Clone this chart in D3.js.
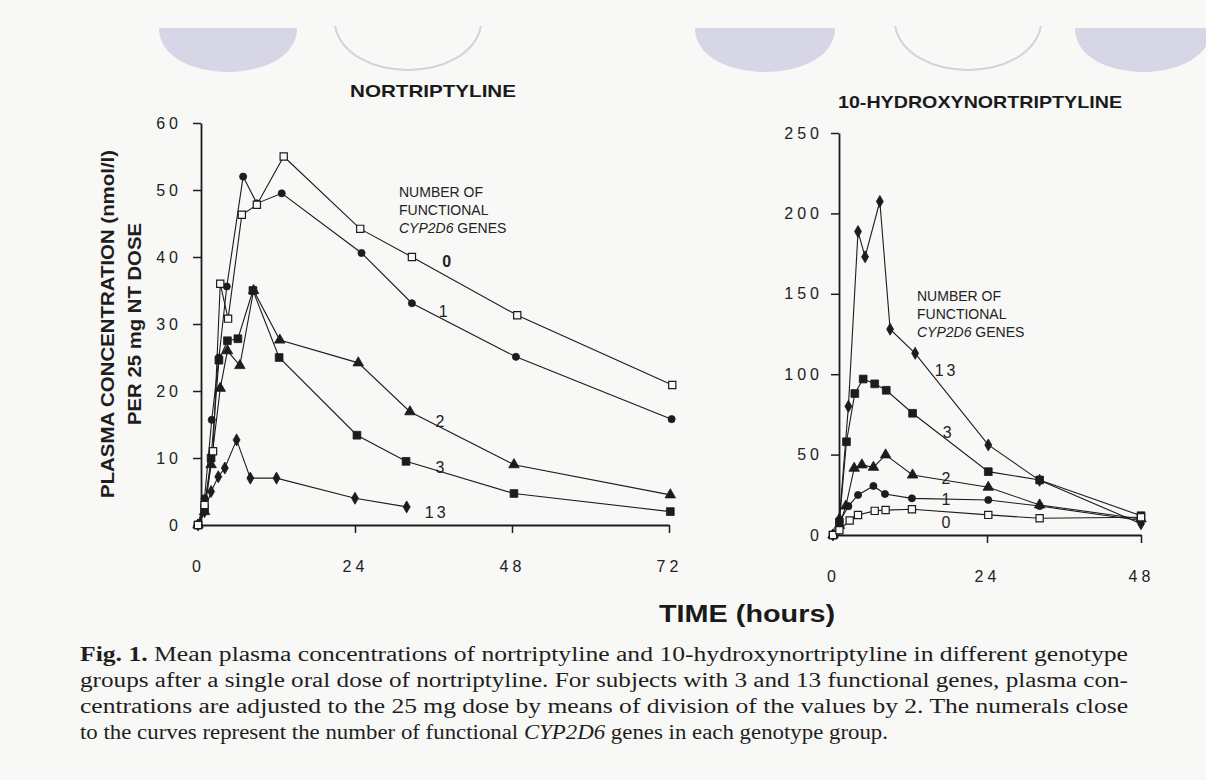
<!DOCTYPE html>
<html>
<head>
<meta charset="utf-8">
<script src="https://cdn.jsdelivr.net/npm/d3@7"></script>
<style>
  html, body { margin: 0; padding: 0; background: #f8f8f6; }
  svg { display: block; }
</style>
</head>
<body>
<svg id="chart" width="1206" height="780"></svg>
<script>
// ---------------- DATA ----------------
// Left panel: nortriptyline (nmol/l per 25 mg dose) vs time (h)
const ntTime0  = [0, 1, 2.3, 3.4, 4.6, 6.7, 9, 13.1, 24.8, 32.7, 48.8, 72.5];
const ntConc0  = [0, 3, 11, 36, 30.8, 46.3, 47.8, 55, 44.2, 40, 31.3, 20.9];
const ntTime1  = [0, 1, 2.1, 3.2, 4.4, 6.9, 9, 12.8, 25, 32.7, 48.6, 72.4];
const ntConc1  = [0, 4, 15.7, 25, 35.6, 52, 48, 49.5, 40.6, 33.1, 25.1, 15.8];
const ntTime2  = [0, 1, 2, 3.4, 4.5, 6.4, 8.5, 12.5, 24.5, 32.4, 48.3, 72.2];
const ntConc2  = [0, 2, 9, 20.4, 26, 23.8, 35, 27.6, 24.2, 16.9, 9, 4.5];
const ntTime3  = [0, 1, 2, 3.2, 4.5, 6.1, 8.4, 12.4, 24.3, 31.8, 48.3, 72.2];
const ntConc3  = [0, 2.5, 10, 24.6, 27.5, 27.8, 35, 25, 13.4, 9.5, 4.7, 2];
const ntTime13 = [0, 1, 2, 3.1, 4.1, 5.9, 8, 12, 24, 31.9];
const ntConc13 = [0, 2, 5, 7.2, 8.5, 12.7, 7, 7, 4, 2.7];

// Right panel: 10-hydroxynortriptyline
const ohTime0  = [0, 1, 2.6, 3.9, 6.5, 8.2, 12.3, 24.2, 32.2, 48];
const ohConc0  = [0, 3, 9, 12.4, 15, 15.5, 16, 12.5, 10.4, 11];
const ohTime1  = [0, 1, 2.4, 3.9, 6.3, 8.1, 12.3, 24.2, 32.2, 48];
const ohConc1  = [0, 8, 18, 24.9, 30.5, 25.5, 22.8, 21.8, 18, 9];
const ohTime2  = [0, 1, 2, 3.3, 4.5, 6.3, 8.2, 12.4, 24.2, 32.2, 48];
const ohConc2  = [0, 6, 18, 41.5, 43.6, 42.1, 49.8, 37.3, 29.7, 18.7, 10];
const ohTime3  = [0, 1, 2.1, 3.4, 4.7, 6.5, 8.3, 12.4, 24.2, 32.2, 48];
const ohConc3  = [0, 8, 58, 88, 97, 94, 90, 75.7, 39.4, 34.2, 12];
const ohTime13 = [0, 1, 2.4, 3.9, 5, 7.3, 8.9, 12.8, 24.2, 32.2, 48];
const ohConc13 = [0, 10, 80, 188.7, 173, 207.4, 128, 113, 56, 34, 7];

const ntTicksY = [0, 10, 20, 30, 40, 50, 60];
const ohTicksY = [0, 50, 100, 150, 200, 250];
const ntTicksX = [0, 24, 48, 72];
const ohTicksX = [0, 24, 48];

// curve numerals and their anchor points (time, conc)
const ntLabelText = ["0", "1", "2", "3", "13"];
const ntLabelPos = [[38, 38.5], [37.5, 31], [37, 14.6], [37, 7.7], [36.5, 1.1]];
const ohLabelText = ["13", "3", "2", "1", "0"];
const ohLabelPos = [[17.7, 99], [17.8, 60.5], [17.6, 31.5], [17.6, 18.5], [17.6, 4.5]];

const titles = ["NORTRIPTYLINE", "10-HYDROXYNORTRIPTYLINE"];
const legendLines = ["NUMBER OF", "FUNCTIONAL", "CYP2D6  GENES"];
const yTitleLines = ["PLASMA CONCENTRATION (nmol/l)", "PER 25 mg NT DOSE"];
const xTitle = "TIME (hours)";
const captionLines = [
  "Mean plasma concentrations of nortriptyline and 10-hydroxynortriptyline in different genotype",
  "groups after a single oral dose of nortriptyline. For subjects with 3 and 13 functional genes, plasma con-",
  "centrations are adjusted to the 25 mg dose by means of division of the values by 2. The numerals close",
  "to the curves represent the number of functional "
];

// ---------------- DRAW ----------------
const svg = d3.select("#chart");
const ink = "#1c1c1c";

// faint decorative scan marks at the top
const deco = svg.append("g");
const halfEllipse = (cx, w, top, depth) => {
  const p = d3.path();
  p.moveTo(cx - w / 2, top);
  p.lineTo(cx + w / 2, top);
  p.bezierCurveTo(cx + w / 2, top + depth * 1.33, cx - w / 2, top + depth * 1.33, cx - w / 2, top);
  return p.toString();
};
const arcOnly = (cx, w, top, depth) => {
  const p = d3.path();
  p.moveTo(cx - w / 2, top);
  p.bezierCurveTo(cx - w / 2 + 12, top + depth * 1.33, cx + w / 2 - 12, top + depth * 1.33, cx + w / 2, top);
  return p.toString();
};
[[228, 138], [765, 140], [1143, 136]].forEach(([c, w]) =>
  deco.append("path").attr("d", halfEllipse(c, w, 28, 44)).attr("fill", "#d6d6e6"));
[[408, 146], [968, 146]].forEach(([c, w]) =>
  deco.append("path").attr("d", arcOnly(c, w, 26, 44)).attr("fill", "none")
    .attr("stroke", "#d4d4d8").attr("stroke-width", 2));

const symbolFor = {
  "0": d3.symbolSquare, "1": d3.symbolCircle, "2": d3.symbolTriangle,
  "3": d3.symbolSquare, "13": d3.symbolDiamond
};
const sizeFor = { "0": 52, "1": 40, "2": 48, "3": 60, "13": 42 };

const sans = "'Liberation Sans', Arial, sans-serif";
const narrow = "'Liberation Sans Narrow', 'Arial Narrow', 'Liberation Sans', sans-serif";

function panel(opts) {
  const { x, y, series, yTicks, xTicks, axisX, xPad, yPad, labelText, labelPos, boldZero } = opts;
  const g = svg.append("g");
  const line = d3.line().x(d => x(d[0])).y(d => y(d[1]));

  // axes
  const ya = g.append("g").attr("transform", `translate(${axisX},0)`)
    .call(d3.axisLeft(y).tickValues(yTicks).tickSize(8).tickSizeOuter(0).tickPadding(yPad));
  const xa = g.append("g").attr("transform", `translate(0,${y(0)})`)
    .call(d3.axisBottom(x).tickValues(xTicks).tickSize(8).tickSizeOuter(0).tickPadding(xPad));
  [ya, xa].forEach(a => {
    a.select(".domain").attr("stroke", ink).attr("stroke-width", 1.8);
    a.selectAll(".tick line").attr("stroke", ink).attr("stroke-width", 1.5);
    a.selectAll(".tick text").attr("fill", "#222")
      .style("font-family", sans)
      .style("font-size", "16px").style("letter-spacing", "4px");
  });
  xa.selectAll(".tick").filter(d => d === 0).select("line").remove();

  // series
  series.forEach(s => {
    const pts = s.t.map((t, i) => [t, s.v[i]]);
    g.append("path").datum(pts).attr("d", line)
      .attr("fill", "none").attr("stroke", ink).attr("stroke-width", 1.1);
    g.selectAll(null).data(pts).enter().append("path")
      .attr("transform", d => `translate(${x(d[0])},${y(d[1])})`)
      .attr("d", d3.symbol().type(symbolFor[s.k]).size(sizeFor[s.k]))
      .attr("fill", s.k === "0" ? "#f8f8f6" : ink)
      .attr("stroke", ink).attr("stroke-width", s.k === "0" ? 1.2 : 0.8);
  });

  // curve numerals
  g.selectAll(null).data(labelText).enter().append("text")
    .attr("x", (d, i) => x(labelPos[i][0]))
    .attr("y", (d, i) => y(labelPos[i][1]))
    .attr("text-anchor", "middle")
    .style("font-family", sans)
    .style("font-size", "16px").style("font-weight", d => (boldZero && d === "0") ? "bold" : "normal")
    .style("letter-spacing", d => d === "13" ? "3px" : "0px")
    .attr("fill", "#222").text(d => d);
  return g;
}

// left panel
const xL = d3.scaleLinear().domain([0, 72]).range([198, 669]);
const yL = d3.scaleLinear().domain([0, 60]).range([525, 123]);
panel({
  x: xL, y: yL, yTicks: ntTicksY, xTicks: ntTicksX, axisX: 201, xPad: 28, yPad: 11,
  labelText: ntLabelText, labelPos: ntLabelPos, boldZero: true,
  series: [
    { k: "13", t: ntTime13, v: ntConc13 },
    { k: "3", t: ntTime3, v: ntConc3 },
    { k: "2", t: ntTime2, v: ntConc2 },
    { k: "1", t: ntTime1, v: ntConc1 },
    { k: "0", t: ntTime0, v: ntConc0 }
  ]
});

// right panel
const xR = d3.scaleLinear().domain([0, 48]).range([833, 1141]);
const yR = d3.scaleLinear().domain([0, 250]).range([535, 133]);
panel({
  x: xR, y: yR, yTicks: ohTicksY, xTicks: ohTicksX, axisX: 839, xPad: 28, yPad: 8,
  labelText: ohLabelText, labelPos: ohLabelPos, boldZero: false,
  series: [
    { k: "13", t: ohTime13, v: ohConc13 },
    { k: "3", t: ohTime3, v: ohConc3 },
    { k: "2", t: ohTime2, v: ohConc2 },
    { k: "1", t: ohTime1, v: ohConc1 },
    { k: "0", t: ohTime0, v: ohConc0 }
  ]
});

// panel titles
svg.append("text").attr("x", 350).attr("y", 97).attr("textLength", 166).attr("lengthAdjust", "spacingAndGlyphs")
  .style("font-family", narrow).style("font-weight", "bold").style("font-size", "17px").attr("fill", "#1a1a1a")
  .text(titles[0]);
svg.append("text").attr("x", 838).attr("y", 108).attr("textLength", 284).attr("lengthAdjust", "spacingAndGlyphs")
  .style("font-family", narrow).style("font-weight", "bold").style("font-size", "17px").attr("fill", "#1a1a1a")
  .text(titles[1]);

// legends
function legend(x0, y0) {
  const t = svg.append("g");
  legendLines.forEach((s, i) => {
    const tx = t.append("text").attr("x", x0).attr("y", y0 + i * 18)
      .style("font-family", narrow).style("font-size", "14px").attr("fill", "#222");
    if (i === 2) {
      tx.append("tspan").style("font-style", "italic").text("CYP2D6");
      tx.append("tspan").text("  GENES");
    } else tx.text(s);
  });
}
legend(399, 197);
legend(917, 301);

// y-axis title (left)
svg.append("text").attr("transform", "translate(114,324) rotate(-90)")
  .attr("text-anchor", "middle").attr("textLength", 348).attr("lengthAdjust", "spacingAndGlyphs")
  .style("font-family", sans).style("font-weight", "bold").style("font-size", "19px").attr("fill", "#1e1e1e")
  .text(yTitleLines[0]);
svg.append("text").attr("transform", "translate(141,324) rotate(-90)")
  .attr("text-anchor", "middle").attr("textLength", 202).attr("lengthAdjust", "spacingAndGlyphs")
  .style("font-family", sans).style("font-weight", "bold").style("font-size", "19px").attr("fill", "#1e1e1e")
  .text(yTitleLines[1]);

// x-axis title
svg.append("text").attr("x", 747).attr("y", 622).attr("text-anchor", "middle")
  .attr("textLength", 176).attr("lengthAdjust", "spacingAndGlyphs")
  .style("font-family", sans).style("font-weight", "bold").style("font-size", "23px").attr("fill", "#1a1a1a")
  .text(xTitle);

// caption
const serif = "'Liberation Serif', 'Times New Roman', serif";
const capWidths = [1048, 1048, 1048, 808];
captionLines.forEach((s, i) => {
  const tx = svg.append("text").attr("x", 80).attr("y", 661 + i * 26)
    .attr("textLength", capWidths[i]).attr("lengthAdjust", "spacingAndGlyphs")
    .style("font-family", serif).style("font-size", "20px").attr("fill", "#1e1e1e");
  if (i === 0) {
    tx.append("tspan").style("font-weight", "bold").text("Fig. 1. ");
    tx.append("tspan").text(s);
  } else if (i === 3) {
    tx.append("tspan").text(s);
    tx.append("tspan").style("font-style", "italic").text("CYP2D6");
    tx.append("tspan").text(" genes in each genotype group.");
  } else tx.text(s);
});
</script>
</body>
</html>
